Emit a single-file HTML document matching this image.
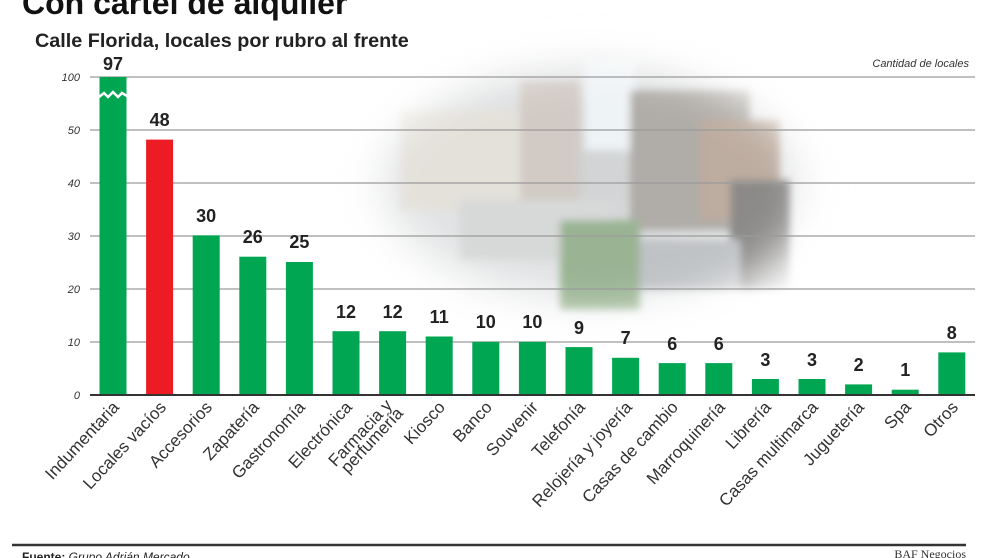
<!DOCTYPE html>
<html><head><meta charset="utf-8"><style>
body{margin:0;background:#fff;}
svg{display:block;font-family:"Liberation Sans",sans-serif;}
</style></head><body>
<svg width="992" height="558" viewBox="0 0 992 558" xmlns="http://www.w3.org/2000/svg">
<defs>
<filter id="b" x="-30%" y="-30%" width="160%" height="160%"><feGaussianBlur stdDeviation="22"/></filter>
<filter id="b2"><feGaussianBlur stdDeviation="4"/></filter>
<radialGradient id="rg" cx="0.5" cy="0.45" r="0.55">
<stop offset="0" stop-color="#b9bcbe"/><stop offset="0.7" stop-color="#d8dadb"/><stop offset="1" stop-color="#fff" stop-opacity="0"/></radialGradient>
</defs>
<g opacity="0.7">
<ellipse cx="590" cy="190" rx="250" ry="150" fill="url(#rg)" filter="url(#b)"/>
<g filter="url(#b2)">
<rect x="400" y="110" width="120" height="100" fill="#d9d5cc"/>
<rect x="520" y="80" width="60" height="120" fill="#c0b5ad"/>
<rect x="585" y="60" width="50" height="90" fill="#e8eef2"/>
<rect x="630" y="90" width="120" height="140" fill="#8f8a83"/>
<rect x="700" y="120" width="80" height="100" fill="#a28a78"/>
<rect x="460" y="200" width="150" height="60" fill="#c7c9c9"/>
<rect x="560" y="220" width="80" height="90" fill="#6f9466"/>
<rect x="730" y="180" width="60" height="110" fill="#5c5a58"/>
<rect x="640" y="240" width="100" height="50" fill="#a5a9ad"/>
</g>
<ellipse cx="590" cy="190" rx="270" ry="175" fill="none" stroke="#fff" stroke-width="90" filter="url(#b)"/>
</g>
<text x="22" y="14" font-size="32" font-weight="bold" fill="#111">Con cartel de alquiler</text>
<text x="35" y="47" font-size="19.8" font-weight="bold" fill="#222">Calle Florida, locales por rubro al frente</text>
<text x="969" y="67" font-size="11" font-style="italic" fill="#333" text-anchor="end">Cantidad de locales</text>
<g stroke="#9a9a9a" stroke-width="1.2">
<line x1="90" y1="77" x2="975" y2="77"/>
<line x1="90" y1="130" x2="975" y2="130"/>
<line x1="90" y1="183" x2="975" y2="183"/>
<line x1="90" y1="236" x2="975" y2="236"/>
<line x1="90" y1="289" x2="975" y2="289"/>
<line x1="90" y1="342" x2="975" y2="342"/>
</g>
<g font-size="11" font-style="italic" fill="#333" text-anchor="end">
<text x="80" y="81">100</text><text x="80" y="134">50</text><text x="80" y="187">40</text>
<text x="80" y="240">30</text><text x="80" y="293">20</text><text x="80" y="346">10</text><text x="80" y="399">0</text>
</g>
<g fill="#00a651">
<rect x="99.5" y="77" width="27" height="318"/>
<rect x="192.7" y="235.4" width="27" height="159.6"/>
<rect x="239.3" y="256.7" width="27" height="138.3"/>
<rect x="285.9" y="262" width="27" height="133"/>
<rect x="332.5" y="331.2" width="27" height="63.8"/>
<rect x="379.1" y="331.2" width="27" height="63.8"/>
<rect x="425.7" y="336.5" width="27" height="58.5"/>
<rect x="472.3" y="341.8" width="27" height="53.2"/>
<rect x="518.9" y="341.8" width="27" height="53.2"/>
<rect x="565.5" y="347.1" width="27" height="47.9"/>
<rect x="612.1" y="357.8" width="27" height="37.2"/>
<rect x="658.7" y="363.1" width="27" height="31.9"/>
<rect x="705.3" y="363.1" width="27" height="31.9"/>
<rect x="751.9" y="379" width="27" height="16"/>
<rect x="798.5" y="379" width="27" height="16"/>
<rect x="845.1" y="384.4" width="27" height="10.6"/>
<rect x="891.7" y="389.7" width="27" height="5.3"/>
<rect x="938.3" y="352.4" width="27" height="42.6"/>
</g>
<rect x="146.1" y="139.6" width="27" height="255.4" fill="#ed1c24"/>
<polyline points="99,97 104,93 108,97 113,92 118,97 122,93 127,96" fill="none" stroke="#fff" stroke-width="2.5"/>
<line x1="90" y1="395" x2="975" y2="395" stroke="#333" stroke-width="2"/>
<g font-size="18" font-weight="bold" fill="#222" text-anchor="middle">
<text x="113" y="70">97</text><text x="159.6" y="126">48</text><text x="206.2" y="222">30</text>
<text x="252.8" y="243">26</text><text x="299.4" y="248">25</text><text x="346" y="318">12</text>
<text x="392.6" y="318">12</text><text x="439.2" y="323">11</text><text x="485.8" y="328">10</text>
<text x="532.4" y="328">10</text><text x="579" y="334">9</text><text x="625.6" y="344">7</text>
<text x="672.2" y="350">6</text><text x="718.8" y="350">6</text><text x="765.4" y="366">3</text>
<text x="812" y="366">3</text><text x="858.6" y="371">2</text><text x="905.2" y="376">1</text>
<text x="951.8" y="339">8</text>
</g>
<g font-size="17" fill="#333" text-anchor="end">
<text transform="translate(120,408) rotate(-47)">Indumentaria</text>
<text transform="translate(167,408) rotate(-47)">Locales vacíos</text>
<text transform="translate(213,408) rotate(-47)">Accesorios</text>
<text transform="translate(260,408) rotate(-47)">Zapatería</text>
<text transform="translate(306,408) rotate(-47)">Gastronomía</text>
<text transform="translate(353,408) rotate(-47)">Electrónica</text>
<text transform="translate(393,406) rotate(-47)">Farmacia y</text>
<text transform="translate(404,414) rotate(-47)">perfumería</text>
<text transform="translate(446,408) rotate(-47)">Kiosco</text>
<text transform="translate(493,408) rotate(-47)">Banco</text>
<text transform="translate(539,408) rotate(-47)">Souvenir</text>
<text transform="translate(586,408) rotate(-47)">Telefonía</text>
<text transform="translate(633,408) rotate(-47)">Relojería y joyería</text>
<text transform="translate(679,408) rotate(-47)">Casas de cambio</text>
<text transform="translate(726,408) rotate(-47)">Marroquinería</text>
<text transform="translate(772,408) rotate(-47)">Librería</text>
<text transform="translate(819,408) rotate(-47)">Casas multimarca</text>
<text transform="translate(865,408) rotate(-47)">Juguetería</text>
<text transform="translate(912,408) rotate(-47)">Spa</text>
<text transform="translate(959,408) rotate(-47)">Otros</text>
</g>
<line x1="12" y1="545" x2="966" y2="545" stroke="#333" stroke-width="2.5"/>
<text x="22" y="561" font-size="12" fill="#222"><tspan font-weight="bold">Fuente:</tspan><tspan font-style="italic"> Grupo Adrián Mercado</tspan></text>
<text x="966" y="558" font-size="12" fill="#333" text-anchor="end" font-family="Liberation Serif, serif">BAF Negocios</text>
</svg>
</body></html>
